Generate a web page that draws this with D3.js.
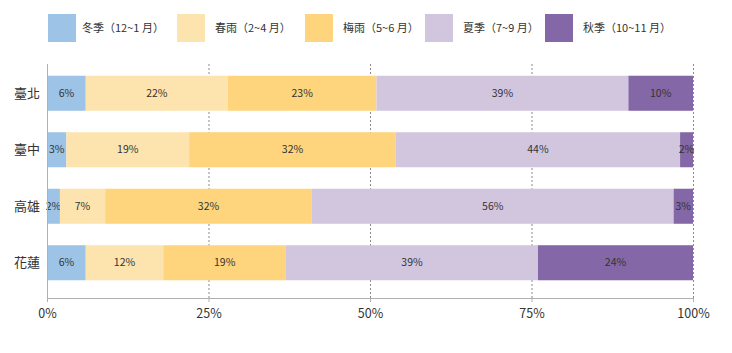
<!DOCTYPE html>
<html lang="zh-Hant">
<head>
<meta charset="utf-8">
<title>Seasonal rainfall share</title>
<script src="https://cdn.jsdelivr.net/npm/d3@7"></script>
<style>
  body { margin: 0; background: #fff; }
  text { font-family: "Noto Sans CJK TC", "Noto Sans", sans-serif; fill: #333; }
  .axis path, .axis line { stroke: #b0b0b0; }
</style>
</head>
<body>
<script>
// Data
var cities = ["臺北", "臺中", "高雄", "花蓮"];
var seasons = ["冬季（12~1 月）", "春雨（2~4 月）", "梅雨（5~6 月）", "夏季（7~9 月）", "秋季（10~11 月）"];
var winter = [6, 3, 2, 6];
var spring = [22, 19, 7, 12];
var plum   = [23, 32, 32, 19];
var summer = [39, 44, 56, 39];
var autumn = [10, 2, 3, 24];
var ticks = [0, 25, 50, 75, 100];
var colors = ["#9dc3e6", "#fde4ae", "#fed57c", "#d2c6df", "#8467a6"];

var w = 732, h = 353;
var series = [winter, spring, plum, summer, autumn];

var svg = d3.select("body").append("svg")
  .attr("width", w).attr("height", h);

var x = d3.scaleLinear().domain([0, 100]).range([47, 693]);
var y = d3.scaleBand().domain(cities).range([65, 291])
  .paddingInner(0.38).paddingOuter(0.19);

// grid lines
svg.append("g").selectAll("line")
  .data(ticks.slice(1))
  .enter().append("line")
  .attr("x1", function(d) { return x(d) + 0.5; })
  .attr("x2", function(d) { return x(d) + 0.5; })
  .attr("y1", 64).attr("y2", 298)
  .attr("stroke", "#8a8a8a")
  .attr("stroke-dasharray", "2,2");

// stacked rows
var rows = cities.map(function(c, i) {
  var acc = 0;
  return series.map(function(s, k) {
    var seg = { city: c, k: k, v: s[i], x0: acc };
    acc += s[i];
    return seg;
  });
});

var segs = svg.append("g").selectAll("g")
  .data(rows).enter().append("g")
  .selectAll("g").data(function(d) { return d; }).enter().append("g");

segs.append("rect")
  .attr("x", function(d) { return x(d.x0); })
  .attr("y", function(d) { return y(d.city); })
  .attr("width", function(d) { return x(d.x0 + d.v) - x(d.x0); })
  .attr("height", y.bandwidth())
  .attr("fill", function(d) { return colors[d.k]; });

segs.append("text")
  .attr("x", function(d) { return x(d.x0 + d.v / 2); })
  .attr("y", function(d) { return y(d.city) + y.bandwidth() / 2; })
  .attr("dy", "0.35em")
  .attr("text-anchor", "middle")
  .attr("font-size", "10.5px")
  .text(function(d) { return d.v + "%"; });

// x axis
var xAxis = d3.axisBottom(x).tickValues(ticks).tickSize(4)
  .tickFormat(function(d) { return d + "%"; });
svg.append("g").attr("class", "axis")
  .attr("transform", "translate(0,298)")
  .call(xAxis)
  .call(function(g) {
    g.selectAll("text").attr("font-size", "12.5px").attr("dy", "1.05em");
  });

// y axis line
svg.append("line")
  .attr("x1", 47.5).attr("x2", 47.5).attr("y1", 64).attr("y2", 298)
  .attr("stroke", "#b0b0b0");

// city labels
svg.append("g").selectAll("text")
  .data(cities).enter().append("text")
  .attr("x", 40)
  .attr("y", function(d) { return y(d) + y.bandwidth() / 2; })
  .attr("dy", "0.35em")
  .attr("text-anchor", "end")
  .attr("font-size", "13px")
  .text(function(d) { return d; });

// legend
var legendX = [48, 177, 305, 425, 545];
var legend = svg.append("g").selectAll("g")
  .data(seasons).enter().append("g")
  .attr("transform", function(d, i) { return "translate(" + legendX[i] + ",14)"; });
legend.append("rect")
  .attr("width", 28).attr("height", 28)
  .attr("fill", function(d, i) { return colors[i]; });
legend.append("text")
  .attr("x", function(d, i) { return i == 0 ? 34 : 38; })
  .attr("y", 14).attr("dy", "0.35em")
  .attr("font-size", "11px")
  .text(function(d) { return d; });
</script>
</body>
</html>
